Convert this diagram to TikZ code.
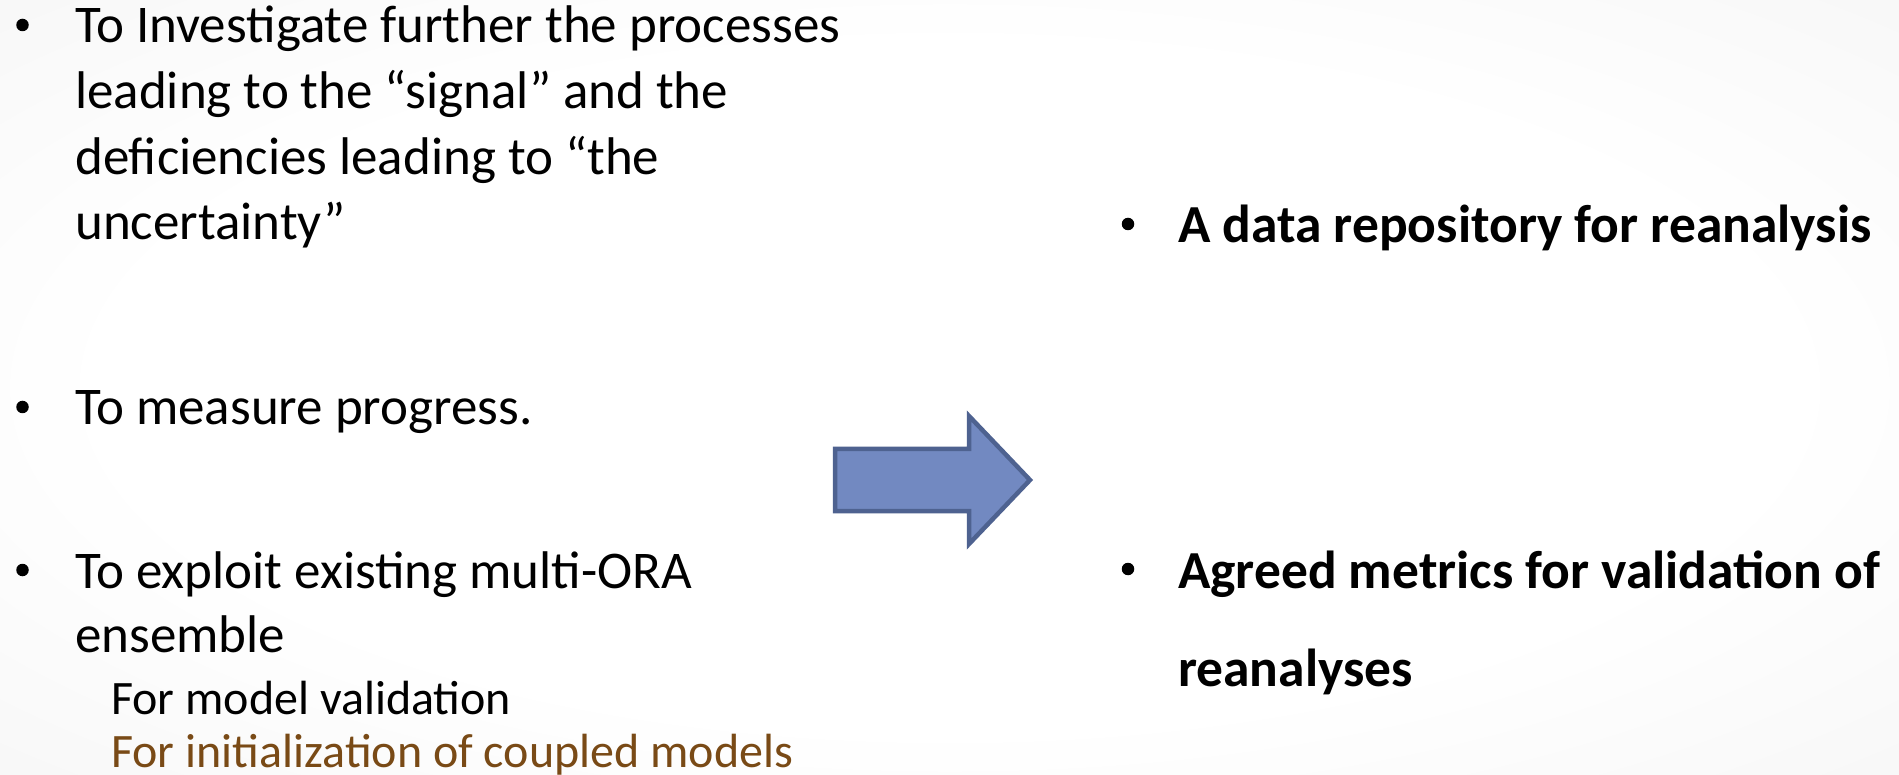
\documentclass[tikz,border=0pt]{standalone}
\usepackage{fontspec}
\setmainfont{Carlito}
\definecolor{arrowfill}{RGB}{114,137,193}
\definecolor{arrowedge}{RGB}{78,98,144}
\definecolor{subbrown}{RGB}{121,74,22}
\pgfdeclareradialshading{slidebg}{\pgfpoint{0bp}{0bp}}{%
  color(0bp)=(white); color(22bp)=(white); color(50bp)=(black!6); color(72bp)=(black!11)}
\tikzset{
  body/.style={anchor=base west, inner sep=0pt, font=\fontsize{53}{64}\selectfont},
  subline/.style={anchor=base west, inner sep=0pt, font=\fontsize{48}{58}\selectfont},
  boldline/.style={anchor=base west, inner sep=0pt, font=\bfseries\fontsize{53.5}{64}\selectfont},
  dot/.style={circle, fill=black, inner sep=0pt, minimum size=12.5pt},
  bigarrow/.style={fill=arrowfill, draw=arrowedge, line width=4.5pt, line join=miter},
}
\begin{document}
\begin{tikzpicture}[x=1pt,y=-1pt]
  % slide background
  \shade[shading=slidebg] (0,0) rectangle (1899,775);
  \useasboundingbox (0,0) rectangle (1899,775);

  % left column
  \node[dot]  (b1)  at (22.5,25)  {};
  \node[body] (t1a) at (75,43)  {To Investigate further the processes};
  \node[body] (t1b) at (75,109) {leading to the “signal” and the};
  \node[body] (t1c) at (75,175) {deficiencies leading to “the};
  \node[body] (t1d) at (75,240) {uncertainty”};

  \node[dot]  (b2)  at (22.5,407) {};
  \node[body] (t2)  at (75,425) {To measure progress.};

  \node[dot]  (b3)  at (22.5,570) {};
  \node[body] (t3a) at (75,588) {To exploit existing multi-ORA};
  \node[body] (t3b) at (75,652) {ensemble};
  \node[subline] (s1) at (111,714) {For model validation};
  \node[subline, text=subbrown] (s2) at (111,767) {For initialization of coupled models};

  % block arrow
  \draw[bigarrow] (835,449) -- (969,449) -- (969,416) -- (1030,480)
        -- (969,544) -- (969,511) -- (835,511) -- cycle;

  % right column
  \node[dot]      (b4)  at (1128,224) {};
  \node[boldline] (r1)  at (1178,243) {A data repository for reanalysis};
  \node[dot]      (b5)  at (1128,569) {};
  \node[boldline] (r2a) at (1178,588) {Agreed metrics for validation of};
  \node[boldline] (r2b) at (1178,686) {reanalyses};
\end{tikzpicture}
\end{document}
